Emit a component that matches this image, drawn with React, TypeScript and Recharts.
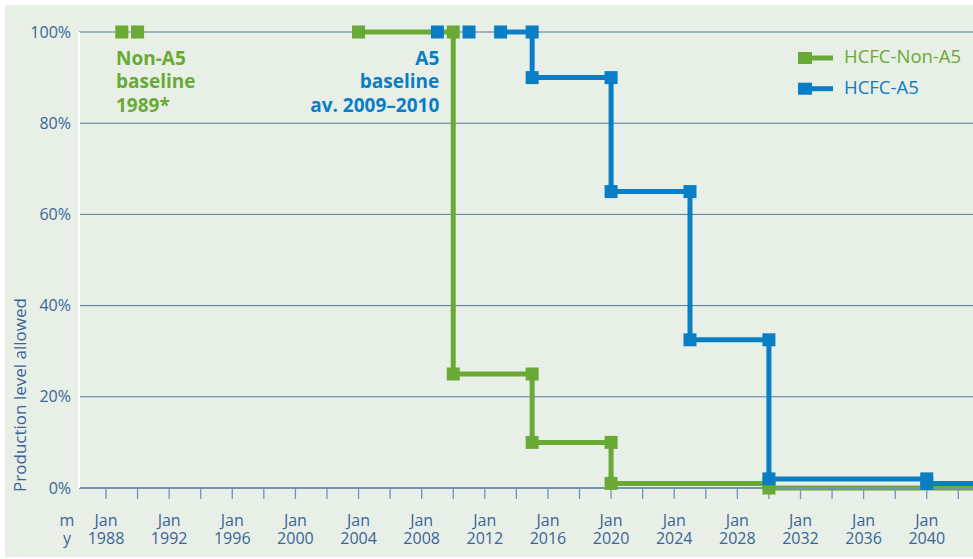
import React from 'react';
import { ComposedChart, Line, XAxis, YAxis, CartesianGrid, Customized } from 'recharts';

// ---- data ----
const X_MIN = 1986.29;
const X_END = 2042.93;

const xTicks = [1988, 1990, 1992, 1994, 1996, 1998, 2000, 2002, 2004, 2006, 2008, 2010, 2012, 2014, 2016, 2018, 2020, 2022, 2024, 2026, 2028, 2030, 2032, 2034, 2036, 2038, 2040, 2042];
const xLabelYears = [1988, 1992, 1996, 2000, 2004, 2008, 2012, 2016, 2020, 2024, 2028, 2032, 2036, 2040];
const yTicks = [0, 20, 40, 60, 80, 100];

const nonA5BaselineYears = [1989, 1990];
const nonA5BaselineValues = [100, 100];
const nonA5Years = [2004, 2010, 2010, 2015, 2015, 2020, 2020, 2030, 2030, X_END];
const nonA5Values = [100, 100, 25, 25, 10, 10, 1, 1, 0, 0];

const a5BaselineYears = [2009, 2011];
const a5BaselineValues = [100, 100];
const a5Years = [2013, 2015, 2015, 2020, 2020, 2025, 2025, 2030, 2030, 2040, 2040, X_END];
const a5Values = [100, 100, 90, 90, 65, 65, 32.5, 32.5, 2, 2, 1, 1];

const seriesNames = ['HCFC-Non-A5', 'HCFC-A5'];

const toRows = (xs: number[], ys: number[]) => xs.map((x, i) => ({ x, y: ys[i] }));
const nonA5Baseline = toRows(nonA5BaselineYears, nonA5BaselineValues);
const nonA5Data = toRows(nonA5Years, nonA5Values);
const a5Baseline = toRows(a5BaselineYears, a5BaselineValues);
const a5Data = toRows(a5Years, a5Values);

// ---- style ----
const GREEN = '#68aa35';
const BLUE = '#0a7ec4';
const BG = '#e8efe7';
const TEXT = '#3a6598';
const GRID = '#5479a3';
const AXIS = '#7593b6';
const FONT = '"Open Sans", sans-serif';
const MARK = 13;

const squareDot = (color: string) => (props: any) => {
  const { cx, cy, index, payload } = props;
  if (cx == null || cy == null || (payload && payload.x >= X_END)) {
    return <g key={`d-${index}`} />;
  }
  return (
    <rect
      key={`d-${index}`}
      x={cx - MARK / 2}
      y={cy - MARK / 2}
      width={MARK}
      height={MARK}
      fill={color}
    />
  );
};

const XTick = (props: any) => {
  const { x, y, payload } = props;
  const yr = payload.value;
  if (!xLabelYears.includes(yr)) return <g />;
  return (
    <g>
      <text x={x} y={y + 26.7} textAnchor="middle" fill={TEXT} fontSize={16} fontFamily={FONT}>Jan</text>
      <text x={x} y={y + 45.3} textAnchor="middle" fill={TEXT} fontSize={16} fontFamily={FONT}>{yr}</text>
    </g>
  );
};

const LegendBox = () => {
  const colors = [GREEN, BLUE];
  return (
    <g transform="translate(790 40)" fontFamily={FONT}>
      {seriesNames.map((n, i) => {
        const oy = i * 30.7;
        return (
          <g key={n}>
            <rect x={3} y={7 + oy} width={14} height={12} fill={colors[i]} />
            <line x1={16} x2={38} y1={13 + oy} y2={13 + oy} stroke={colors[i]} strokeWidth={5} />
            <text x={49} y={18.3 + oy} fill={colors[i]} fontSize={18.5}>{n}</text>
          </g>
        );
      })}
    </g>
  );
};

const Annotations = () => (
  <g fontFamily={FONT}>
    <text fill={GREEN} fontSize={19} fontWeight={700}>
      <tspan x={111} y={60}>Non-A5</tspan>
      <tspan x={111} y={83.3}>baseline</tspan>
      <tspan x={111} y={106.7}>1989*</tspan>
    </text>
    <text fill={BLUE} fontSize={19} fontWeight={700} textAnchor="end">
      <tspan x={434.3} y={60}>A5</tspan>
      <tspan x={434.3} y={83.3}>baseline</tspan>
      <tspan x={434.3} y={106.7}>av. 2009–2010</tspan>
    </text>
    <text fill={TEXT} fontSize={16} textAnchor="middle">
      <tspan x={62} y={520.7}>m</tspan>
      <tspan x={62} y={539.3}>y</tspan>
    </text>
    <text
      x={21}
      y={390}
      transform="rotate(-90 21 390)"
      fill={TEXT}
      fontSize={17}
      textAnchor="middle"
    >
      Production level allowed
    </text>
  </g>
);

export default function App() {
  return (
    <div style={{ position: 'absolute', left: 0, top: 0, width: 973, height: 559, background: '#ffffff', overflow: 'hidden' }}>
      <div style={{ position: 'absolute', left: 5, top: 5, width: 968, height: 552, background: BG }}>
        <ComposedChart width={968} height={552} margin={{ top: 27, right: 0, bottom: 0, left: 0 }}>
          <CartesianGrid horizontal vertical={false} stroke={GRID} strokeWidth={1} />
          <XAxis
            type="number"
            dataKey="x"
            domain={[X_MIN, X_END]}
            ticks={xTicks}
            interval={0}
            tick={<XTick />}
            tickSize={11}
            tickMargin={0}
            tickLine={{ stroke: AXIS, strokeWidth: 1.3 }}
            axisLine={{ stroke: AXIS, strokeWidth: 2 }}
            height={69}
          />
          <YAxis
            type="number"
            domain={[0, 100]}
            ticks={yTicks}
            interval={0}
            tickFormatter={(v: number) => `${v}%`}
            width={74}
            tickLine={false}
            axisLine={{ stroke: '#ffffff', strokeWidth: 2 }}
            tick={{ fill: TEXT, fontSize: 16, fontFamily: FONT }}
          />
          <Line
            data={nonA5Data}
            dataKey="y"
            name={seriesNames[0]}
            type="linear"
            stroke={GREEN}
            strokeWidth={5}
            dot={squareDot(GREEN)}
            activeDot={false}
            isAnimationActive={false}
          />
          <Line
            data={nonA5Baseline}
            dataKey="y"
            type="linear"
            stroke="none"
            strokeWidth={0}
            dot={squareDot(GREEN)}
            activeDot={false}
            isAnimationActive={false}
          />
          <Line
            data={a5Baseline}
            dataKey="y"
            type="linear"
            stroke="none"
            strokeWidth={0}
            dot={squareDot(BLUE)}
            activeDot={false}
            isAnimationActive={false}
          />
          <Line
            data={a5Data}
            dataKey="y"
            name={seriesNames[1]}
            type="linear"
            stroke={BLUE}
            strokeWidth={5}
            dot={squareDot(BLUE)}
            activeDot={false}
            isAnimationActive={false}
          />
          <Customized component={LegendBox} />
          <Customized component={Annotations} />
        </ComposedChart>
      </div>
    </div>
  );
}
